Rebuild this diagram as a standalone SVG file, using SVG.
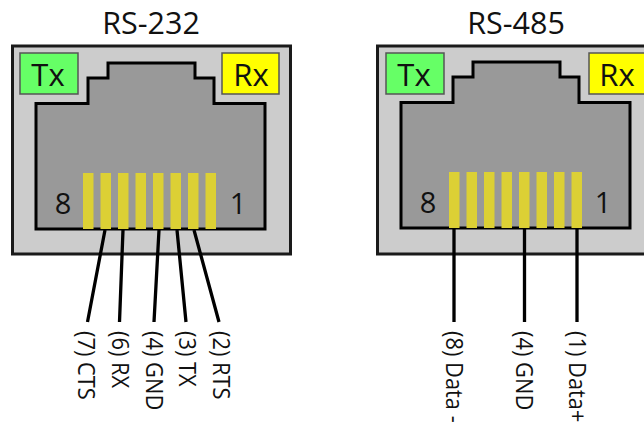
<svg xmlns="http://www.w3.org/2000/svg" width="644" height="424" viewBox="0 0 644 424">
<style>
text{font-family:"Open Sans","Noto Sans",sans-serif;fill:#111}
.title{font-size:30.500px;text-anchor:middle}
.tag{font-size:31px;text-anchor:middle}
.num{font-size:29px;text-anchor:middle}
.lab{font-size:23.500px}
.outer{fill:#ccc;stroke:#1a1a1a;stroke-width:3}
.inner{fill:#999;stroke:#000;stroke-width:3;stroke-miterlimit:10}
.tx{fill:#6f6;stroke:#555;stroke-width:1.5}
.rx{fill:#ff0;stroke:#555;stroke-width:1.5}
.pin{fill:#dcd035}
.wire{stroke:#000;stroke-width:3.300;fill:none}
</style>
<defs>
<path id="sock" class="inner" d="M36 103.500H88V78H108V63H195V78H214V103.500H265V229H36Z"/>
<g id="pins">
<rect class="pin" x="83" y="173" width="10.500" height="56"/>
<rect class="pin" x="100.500" y="173" width="10.500" height="56"/>
<rect class="pin" x="118" y="173" width="10.500" height="56"/>
<rect class="pin" x="135.500" y="173" width="10.500" height="56"/>
<rect class="pin" x="153" y="173" width="10.500" height="56"/>
<rect class="pin" x="170.500" y="173" width="10.500" height="56"/>
<rect class="pin" x="188" y="173" width="10.500" height="56"/>
<rect class="pin" x="205.500" y="173" width="10.500" height="56"/>
</g>
</defs>
<g id="rs232">
<text class="title" x="151" y="34">RS-232</text>
<rect class="outer" x="12.500" y="46" width="278" height="208"/>
<g id="rs232-tx"><rect class="tx" x="20" y="53" width="58" height="41"/><text class="tag" x="48" y="86">Tx</text></g>
<g id="rs232-rx"><rect class="rx" x="222" y="53" width="57" height="41"/><text class="tag" x="251" y="86">Rx</text></g>
<g id="rs232-socket"><use href="#sock"/><use href="#pins"/><text class="num" x="63" y="214">8</text><text class="num" x="238" y="214">1</text></g>
</g>
<g id="rs485">
<text class="title" x="516" y="34">RS-485</text>
<rect class="outer" x="377.500" y="46" width="278" height="208"/>
<g id="rs485-tx"><rect class="tx" x="386" y="53" width="58" height="41"/><text class="tag" x="414" y="86">Tx</text></g>
<g id="rs485-rx"><rect class="rx" x="589" y="53" width="57" height="41"/><text class="tag" x="617" y="86">Rx</text></g>
<g id="rs485-socket"><use href="#sock" x="365" y="-1"/><use href="#pins" x="366" y="-1"/><text class="num" x="428" y="213">8</text><text class="num" x="603" y="213">1</text></g>
</g>
<g id="connectors">
<path class="wire" d="M105 230L87.500 322M123 230L119.500 322M159 230L154 322M177 230L186 322M194 230L219 322"/>
<path class="wire" d="M454 229V322M524.500 229V322M577 229V322"/>
</g>
<g id="labels">
<text class="lab" transform="translate(78 331) rotate(90) scale(.93 1)">(7) CTS</text>
<text class="lab" transform="translate(112 331) rotate(90) scale(.93 1)">(6) RX</text>
<text class="lab" transform="translate(146 331) rotate(90) scale(.93 1)">(4) GND</text>
<text class="lab" transform="translate(179 331) rotate(90) scale(.93 1)">(3) TX</text>
<text class="lab" transform="translate(213 331) rotate(90) scale(.93 1)">(2) RTS</text>
<text class="lab" transform="translate(446 331) rotate(90) scale(.93 1)">(8) Data -</text>
<text class="lab" transform="translate(516 331) rotate(90) scale(.93 1)">(4) GND</text>
<text class="lab" transform="translate(569 331) rotate(90) scale(.93 1)">(1) Data+</text>
</g>
</svg>
